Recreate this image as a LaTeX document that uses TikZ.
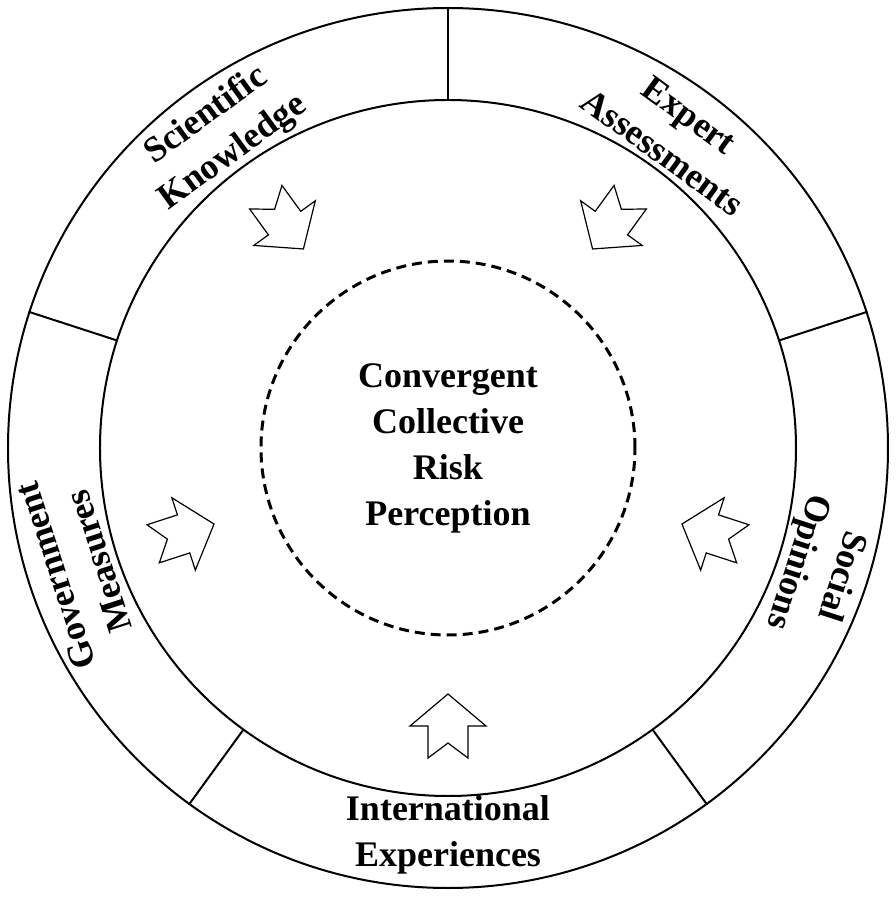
\documentclass[tikz,border=0pt]{standalone}
\usepackage{fontspec}
\setmainfont{Liberation Serif}
\usetikzlibrary{positioning}

\begin{document}
\begin{tikzpicture}[x=1pt, y=1pt]
        % Define styles
        \tikzset{
            ring/.style={draw, line width=2pt},
            divider/.style={draw, line width=2pt},
            core/.style={draw, dashed, line width=3pt, dash pattern=on 10pt off 6pt},
            label/.style={align=center, font=\bfseries\fontsize{36}{46}\selectfont},
            inarrow/.pic={
                \draw[line width=1.2pt, line join=miter] (32,0) -- (0,38) -- (0,20) -- (-32,20) -- (-17,0)
                    -- (-32,-20) -- (0,-20) -- (0,-38) -- cycle;
            }
        }
        \useasboundingbox (-448,-449) rectangle (448,448);

        % Circles
        \node[circle, ring, minimum size=880pt, inner sep=0pt] (outer) at (0,0) {};
        \node[circle, ring, minimum size=696pt, inner sep=0pt] (inner) at (0,0) {};
        \node[circle, core, minimum size=374pt, inner sep=0pt, label] (center) at (0,0)
            {Convergent\\Collective\\Risk\\Perception};

        % Dividers between the sectors
        \foreach \a in {90,18,-54,-126,162}
            \draw[divider] (inner.\a) -- (outer.\a);

        % Sector labels
        \node[label, rotate=36] (sci) at (126:388) {Scientific\\Knowledge};
        \node[label, rotate=-36] (exp) at (54:388) {Expert\\Assessments};
        \node[label, rotate=-108] (soc) at (-18:390) {Social\\Opinions};
        \node[label] (int) at (-90:387) {International\\Experiences};
        \node[label, rotate=108] (gov) at (198:390) {Government\\Measures};

        % Arrows towards the centre
        \foreach \a in {126,54,-18,-90,198}
            \pic[rotate=\a+180] at (\a:278) {inarrow};
    \end{tikzpicture}
\end{document}
